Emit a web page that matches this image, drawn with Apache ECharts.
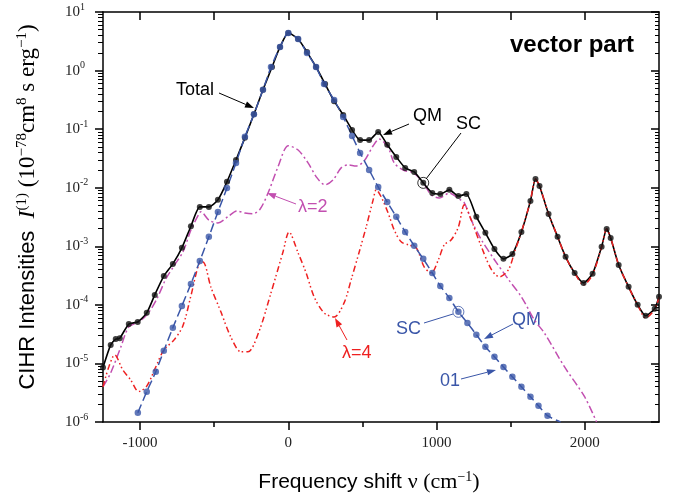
<!DOCTYPE html>
<html>
<head>
<meta charset="utf-8">
<script src="https://cdn.jsdelivr.net/npm/echarts@6/dist/echarts.min.js"></script>
<style>
  html, body { margin: 0; padding: 0; background: #fff; }
  #main { width: 673px; height: 498px; }
</style>
</head>
<body>
<div id="main"></div>
<script>
// values: [frequency shift (cm^-1), intensity]
var total = [
  [-1250, 8.5e-6], [-1198, 2.07e-5], [-1164, 2.6e-5], [-1137, 2.7e-5], [-1076, 4.7e-5],
  [-1016, 5.1e-5], [-955, 7.3e-5], [-901, 1.48e-4], [-840, 3.1e-4], [-779, 5.0e-4],
  [-718, 9.4e-4], [-657, 2.2e-3], [-597, 4.7e-3], [-536, 4.7e-3], [-475, 6.2e-3],
  [-414, 1.26e-2], [-353, 2.98e-2], [-293, 7.1e-2], [-232, 0.18], [-171, 0.47],
  [-110, 1.15], [-56, 2.53], [0, 4.4], [66, 3.46], [126, 2.07], [187, 1.15],
  [248, 0.59], [309, 0.30], [370, 0.175], [430, 0.097], [484, 0.065], [545, 0.065],
  [606, 0.0896], [667, 0.054], [728, 0.0336], [788, 0.0218], [849, 0.0186], [910, 0.0121],
  [971, 8.1e-3], [1025, 7.8e-3], [1086, 9.2e-3], [1147, 7.2e-3], [1201, 7.8e-3],
  [1268, 3.2e-3], [1329, 1.7e-3], [1390, 9.0e-4], [1451, 6.1e-4], [1511, 7.4e-4],
  [1572, 1.76e-3], [1633, 5.96e-3], [1667, 1.41e-2], [1694, 1.07e-2], [1755, 3.57e-3],
  [1816, 1.45e-3], [1870, 6.6e-4], [1931, 3.5e-4], [1991, 2.37e-4], [2052, 3.4e-4],
  [2113, 9.8e-4], [2147, 1.98e-3], [2174, 1.39e-3], [2228, 4.8e-4], [2295, 2.03e-4],
  [2356, 1.0e-4], [2410, 6.5e-5], [2471, 8.6e-5], [2500, 1.37e-4]
];
var qm01 = [
  [-1015, 1.44e-6], [-955, 3.3e-6], [-894, 7.2e-6], [-840, 1.64e-5], [-779, 4.06e-5],
  [-718, 9.6e-5], [-657, 2.28e-4], [-597, 5.6e-4], [-536, 1.45e-3], [-475, 3.86e-3],
  [-414, 9.9e-3], [-353, 2.65e-2], [-293, 7.4e-2], [-232, 0.18], [-171, 0.47],
  [-117, 1.15], [-56, 2.53], [0, 4.4], [66, 3.46], [126, 2.0], [187, 1.15], [241, 0.59],
  [309, 0.315], [370, 0.161], [430, 0.0766], [484, 0.0393], [545, 0.0201], [606, 0.0103],
  [667, 5.7e-3], [728, 3.2e-3], [788, 1.76e-3], [849, 1.02e-3], [910, 6.1e-4],
  [971, 3.5e-4], [1025, 2.1e-4], [1086, 1.31e-4], [1147, 7.6e-5], [1208, 4.9e-5],
  [1268, 3.1e-5], [1329, 1.92e-5], [1390, 1.30e-5], [1451, 8.7e-6], [1511, 5.9e-6],
  [1572, 4.0e-6], [1633, 2.7e-6], [1687, 1.89e-6], [1748, 1.28e-6]
];
var qm01Tail = [[1836, 1.0e-6]];
var lambda2 = [
  [-1250, 4.0e-6], [-1198, 6.9e-6], [-1130, 1.9e-5], [-1076, 4.2e-5], [-1010, 5.1e-5],
  [-949, 7.0e-5], [-887, 1.26e-4], [-826, 2.78e-4], [-772, 4.6e-4], [-711, 8.0e-4],
  [-657, 1.9e-3], [-610, 3.3e-3], [-590, 3.9e-3], [-536, 2.8e-3], [-475, 2.5e-3],
  [-401, 3.3e-3], [-347, 4.0e-3], [-293, 3.7e-3], [-239, 3.6e-3], [-191, 4.3e-3],
  [-137, 8.1e-3], [-70, 2.26e-2], [0, 5.2e-2], [66, 4.4e-2], [133, 2.65e-2],
  [194, 1.47e-2], [248, 1.12e-2], [302, 1.36e-2], [356, 2.18e-2], [403, 2.45e-2],
  [457, 2.35e-2], [511, 2.86e-2], [572, 5.2e-2], [613, 6.8e-2], [674, 4.8e-2],
  [714, 2.65e-2], [775, 2.0e-2], [843, 1.79e-2], [910, 1.21e-2], [964, 7.5e-3],
  [1018, 6.7e-3], [1086, 8.1e-3], [1153, 6.4e-3], [1187, 5.5e-3], [1234, 2.8e-3],
  [1302, 1.29e-3], [1390, 5.9e-4], [1485, 2.7e-4], [1572, 1.37e-4], [1660, 5.5e-5],
  [1727, 3.3e-5], [1863, 8.7e-6], [1998, 2.7e-6], [2079, 1.0e-6]
];
var lambda4 = [
  [-1250, 4.0e-6], [-1211, 8.7e-6], [-1171, 1.4e-5], [-1117, 7.8e-6], [-1063, 5.2e-6],
  [-1009, 3.3e-6], [-955, 4.1e-6], [-894, 8.7e-6], [-840, 1.7e-5], [-772, 2.5e-5],
  [-711, 4.4e-5], [-657, 1.43e-4], [-603, 5.0e-4], [-576, 5.4e-4], [-522, 2.0e-4],
  [-455, 7.6e-5], [-387, 2.8e-5], [-320, 1.58e-5], [-272, 1.58e-5], [-198, 3.5e-5],
  [-117, 1.6e-4], [-36, 8.0e-4], [5, 1.76e-3], [66, 7.7e-4], [120, 3.5e-4],
  [174, 1.37e-4], [241, 7.3e-5], [309, 6.2e-5], [376, 1.08e-4], [424, 2.7e-4],
  [478, 8.0e-4], [525, 2.14e-3], [572, 6.2e-3], [593, 9.2e-3], [626, 7.0e-3],
  [673, 3.7e-3], [714, 1.9e-3], [761, 1.19e-3], [808, 1.06e-3], [863, 9.4e-4],
  [917, 4.4e-4], [964, 3.5e-4], [1012, 5.9e-4], [1052, 1.06e-3], [1099, 1.29e-3],
  [1147, 2.14e-3], [1187, 5.1e-3], [1234, 2.8e-3], [1302, 9.8e-4], [1370, 4.0e-4],
  [1424, 3.0e-4], [1485, 4.0e-4], [1526, 8.0e-4], [1572, 1.76e-3], [1633, 6.0e-3],
  [1667, 1.41e-2], [1694, 1.07e-2], [1755, 3.6e-3], [1816, 1.45e-3], [1870, 6.6e-4],
  [1931, 3.5e-4], [1991, 2.2e-4], [2052, 3.3e-4], [2113, 9.8e-4], [2147, 1.98e-3],
  [2174, 1.39e-3], [2228, 4.8e-4], [2295, 2.03e-4], [2356, 1.0e-4], [2410, 6.0e-5],
  [2471, 8.4e-5], [2500, 1.35e-4]
];
// points circled as "SC" in the figure
var scTotal = [[910, 0.0121]];
var sc01 = [[1147, 7.6e-5]];

// tick values
var xMajor = [-1000, 0, 1000, 2000];
var xMinor = [-500, 500, 1500];
var yMinor = [];
for (var e = -6; e < 1; e++) {
  for (var m = 2; m <= 9; m++) yMinor.push(m * Math.pow(10, e));
}

var SERIF = 'Liberation Serif';
var SANS = 'Liberation Sans';
var BLUE = '#3a56a8', MAGENTA = '#c24fb0', RED = '#ee2020';

var myChart = echarts.init(document.getElementById('main'));

function arrow(x1, y1, x2, y2, color) {
  var dx = x2 - x1, dy = y2 - y1, L = Math.sqrt(dx * dx + dy * dy);
  var ux = dx / L, uy = dy / L, hl = 9, hw = 3.2;
  var bx = x2 - ux * hl, by = y2 - uy * hl;
  return [
    { type: 'line', shape: { x1: x1, y1: y1, x2: bx, y2: by }, style: { stroke: color, lineWidth: 1 } },
    { type: 'polygon', shape: { points: [[x2, y2], [bx - uy * hw, by + ux * hw], [bx + uy * hw, by - ux * hw]] }, style: { fill: color } }
  ];
}
function label(text, x, y, color, font) {
  return { type: 'text', style: { text: text, x: x, y: y, fill: color, font: font || ('18px ' + SANS), verticalAlign: 'middle' } };
}

var graphics = [
  label('vector part', 510, 45, '#000', 'bold 24px ' + SANS),
  label('Total', 176, 90, '#000'),
  label('QM', 413, 116, '#000'),
  label('SC', 456, 124, '#000'),
  { type: 'line', shape: { x1: 461, y1: 133, x2: 426, y2: 179 }, style: { stroke: '#000', lineWidth: 1 } },
  label('\u03bb=2', 298, 207, MAGENTA),
  label('\u03bb=4', 342, 353, RED),
  label('SC', 396, 329, BLUE),
  { type: 'line', shape: { x1: 424, y1: 323, x2: 453, y2: 314 }, style: { stroke: BLUE, lineWidth: 1 } },
  label('QM', 512, 320, BLUE),
  label('01', 440, 381, BLUE)
].concat(
  arrow(219, 93, 254, 108, '#000'),
  arrow(409, 124, 383, 135, '#000'),
  arrow(296, 204, 267, 193, MAGENTA),
  arrow(347, 340, 335, 318, RED),
  arrow(513, 324, 484, 339, BLUE),
  arrow(461, 379, 496, 370, BLUE)
);

var option = {
  animation: false,
  backgroundColor: '#fff',
  grid: { left: 103, right: 14, top: 12, bottom: 76 },
  xAxis: [{
    type: 'value', min: -1250, max: 2500, position: 'bottom',
    axisLine: { show: true, onZero: false, lineStyle: { color: '#000', width: 1.5 } },
    axisTick: { show: true, customValues: xMajor, length: 8, lineStyle: { color: '#000', width: 1.5 } },
    axisLabel: {
      customValues: xMajor, margin: 14, color: '#222', fontFamily: SERIF, fontSize: 15,
      formatter: function (v) { return String(v); }
    },
    splitLine: { show: false },
    name: '{a|Frequency shift }{b|\u03bd (cm}{s|\u22121}{b|)}',
    nameLocation: 'middle', nameGap: 48,
    nameTextStyle: {
      padding: [0, 24, 0, 0],
      rich: {
        a: { fontFamily: SANS, fontSize: 21, color: '#000', lineHeight: 24 },
        b: { fontFamily: SERIF, fontSize: 22, color: '#000', lineHeight: 24 },
        s: { fontFamily: SERIF, fontSize: 14, color: '#000', verticalAlign: 'top', lineHeight: 12 }
      }
    }
  }, {
    type: 'value', min: -1250, max: 2500, position: 'bottom',
    axisLine: { show: false, onZero: false },
    axisTick: { show: true, customValues: xMinor, length: 5, lineStyle: { color: '#000', width: 1.5 } },
    axisLabel: { show: false }, splitLine: { show: false }
  }, {
    type: 'value', min: -1250, max: 2500, position: 'top',
    axisLine: { show: true, onZero: false, lineStyle: { color: '#000', width: 1.5 } },
    axisTick: { show: true, inside: true, customValues: xMajor.concat(xMinor), length: 8, lineStyle: { color: '#000', width: 1.5 } },
    axisLabel: { show: false }, splitLine: { show: false }
  }],
  yAxis: [{
    type: 'log', logBase: 10, min: 1e-6, max: 10, interval: 1, position: 'left',
    axisLine: { show: true, onZero: false, lineStyle: { color: '#000', width: 1.5 } },
    axisTick: { show: true, length: 8, lineStyle: { color: '#000', width: 1.5 } },
    axisLabel: {
      align: 'left', margin: 38,
      formatter: function (v) {
        return '{b|10}{s|' + Math.round(Math.log10(v)) + '}';
      },
      rich: {
        b: { fontFamily: SERIF, fontSize: 15, color: '#222', lineHeight: 20 },
        s: { fontFamily: SERIF, fontSize: 10, color: '#222', verticalAlign: 'top', lineHeight: 10 }
      }
    },
    splitLine: { show: false },
    name: '{a|CIHR Intensities  }{i|I}{s|(1)}{b| (10}{s|\u221278}{b|cm}{s|8}{b| s erg}{s|\u22121}{b|)}',
    nameLocation: 'middle', nameGap: 62, nameRotate: 90,
    nameTextStyle: {
      padding: [0, 0, 0, 20],
      rich: {
        a: { fontFamily: SANS, fontSize: 22, color: '#000', lineHeight: 26 },
        i: { fontFamily: SERIF, fontStyle: 'italic', fontSize: 24, color: '#000', lineHeight: 26 },
        b: { fontFamily: SERIF, fontSize: 23, color: '#000', lineHeight: 26 },
        s: { fontFamily: SERIF, fontSize: 15, color: '#000', verticalAlign: 'top', lineHeight: 13 }
      }
    }
  }, {
    type: 'log', logBase: 10, min: 1e-6, max: 10, position: 'left',
    axisLine: { show: false, onZero: false },
    axisTick: { show: true, customValues: yMinor, length: 5, lineStyle: { color: '#000', width: 1 } },
    axisLabel: { show: false }, splitLine: { show: false }
  }, {
    type: 'log', logBase: 10, min: 1e-6, max: 10, interval: 1, position: 'right',
    axisLine: { show: true, onZero: false, lineStyle: { color: '#000', width: 1.5 } },
    axisTick: { show: true, inside: true, length: 8, lineStyle: { color: '#000', width: 1.5 } },
    axisLabel: { show: false }, splitLine: { show: false }
  }, {
    type: 'log', logBase: 10, min: 1e-6, max: 10, position: 'right',
    axisLine: { show: false, onZero: false },
    axisTick: { show: true, inside: true, customValues: yMinor, length: 4, lineStyle: { color: '#000', width: 1 } },
    axisLabel: { show: false }, splitLine: { show: false }
  }],
  series: [{
    name: 'lambda=2', type: 'line', data: lambda2, smooth: 0.3, showSymbol: false, z: 2,
    lineStyle: { color: MAGENTA, width: 1.5, type: [8, 3, 2, 3] }
  }, {
    name: 'Total QM', type: 'line', data: total, smooth: 0.2, showSymbol: false, z: 3,
    lineStyle: { color: '#000', width: 1.6 }
  }, {
    name: 'lambda=4', type: 'line', data: lambda4, smooth: 0.3, showSymbol: false, z: 4,
    lineStyle: { color: RED, width: 1.5, type: [6, 3, 1.5, 2.5, 1.5, 3] }
  }, {
    name: '01 QM', type: 'line', data: qm01.concat(qm01Tail), smooth: 0.2, showSymbol: false, z: 5,
    lineStyle: { color: BLUE, width: 1.5, type: [9, 4] }
  }, {
    name: 'Total SC', type: 'scatter', data: total, symbol: 'circle', symbolSize: 6, z: 6,
    itemStyle: { color: '#111' }
  }, {
    name: '01 SC', type: 'scatter', data: qm01, symbol: 'circle', symbolSize: 6.5, z: 7,
    itemStyle: { color: BLUE }
  }, {
    type: 'scatter', data: scTotal, symbol: 'circle', symbolSize: 11, z: 8,
    itemStyle: { color: 'rgba(0,0,0,0)', borderColor: '#000', borderWidth: 1 }
  }, {
    type: 'scatter', data: sc01, symbol: 'circle', symbolSize: 11, z: 8,
    itemStyle: { color: 'rgba(0,0,0,0)', borderColor: BLUE, borderWidth: 1 }
  }],
  graphic: graphics
};
myChart.setOption(option);
</script>
</body>
</html>
